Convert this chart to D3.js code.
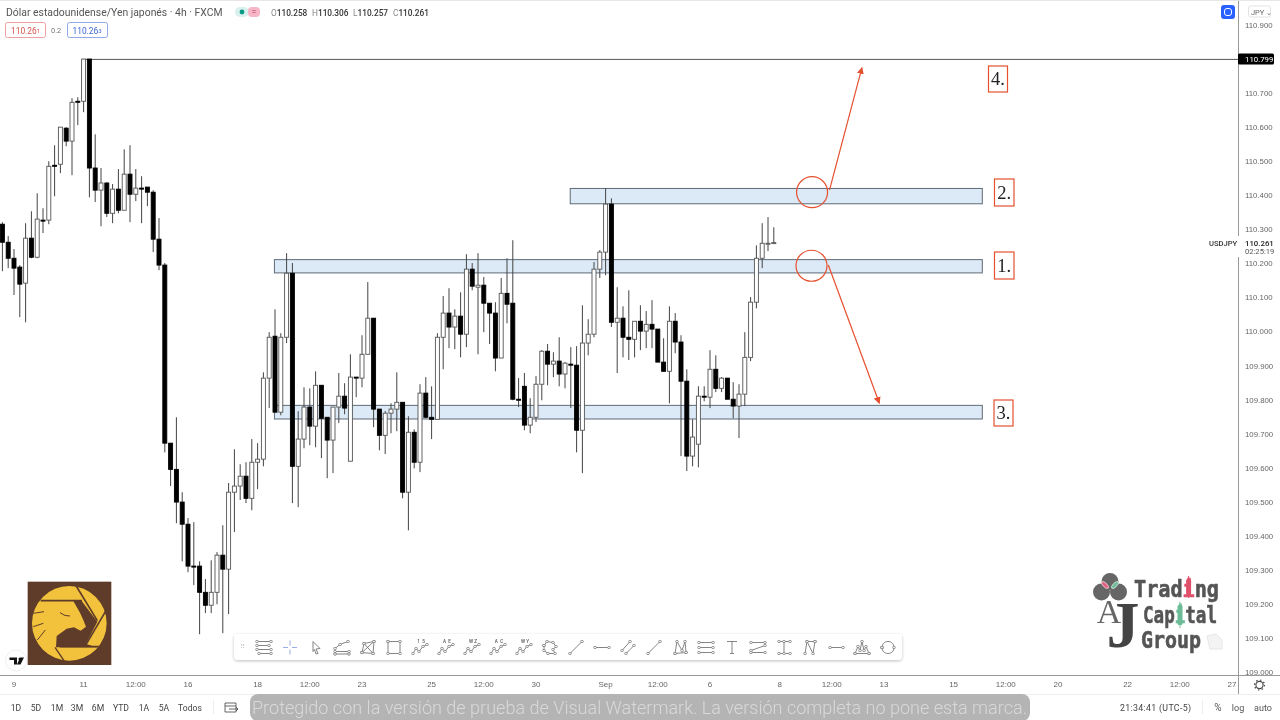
<!DOCTYPE html>
<html>
<head>
<meta charset="utf-8">
<script src="https://cdn.jsdelivr.net/npm/d3@7/dist/d3.min.js"></script>
<style>
  html, body { margin: 0; padding: 0; background: #fff; }
  svg { display: block; font-family: Roboto, sans-serif; filter: blur(0.3px); }
  .price-axis text { fill: #666; font-size: 7.8px; }
  .time-axis text { fill: #666; font-size: 8px; }
  .bottom-btn { fill: #444; font-size: 8.6px; text-anchor: middle; }
</style>
</head>
<body>
<svg id="chart" width="1280" height="720"></svg>
<script>
// values, one candle per 4h bar
const opens = [110.315,110.262,110.215,110.189,110.142,110.274,110.218,110.327,110.327,110.488,110.491,110.597,110.559,110.676,110.676,110.800,110.480,110.415,110.436,110.347,110.418,110.356,110.462,110.403,110.421,110.424,110.409,110.271,110.195,109.672,109.595,109.499,109.434,109.311,109.311,109.234,109.196,109.234,109.343,109.302,109.528,109.546,109.575,109.510,109.616,109.625,109.863,109.986,109.763,109.983,110.171,109.604,109.684,109.778,109.722,109.842,109.748,109.681,109.778,109.810,109.619,109.866,109.863,109.933,110.039,109.772,109.695,109.760,109.772,109.792,109.528,109.704,109.616,109.819,109.748,109.742,109.983,110.054,110.013,110.045,109.992,110.183,110.130,110.136,110.083,110.054,109.922,110.112,110.083,109.801,109.839,109.725,109.748,109.845,109.942,109.904,109.913,109.875,109.904,109.901,109.710,109.966,109.992,110.183,110.233,110.374,110.027,110.039,109.983,109.977,110.030,110.001,110.021,110.007,109.910,109.883,110.030,109.969,109.854,109.634,109.669,109.810,109.807,109.889,109.833,109.863,109.801,109.781,109.816,109.924,110.086,110.215,110.259,110.258];
const highs = [110.321,110.280,110.242,110.195,110.318,110.353,110.406,110.362,110.500,110.547,110.600,110.600,110.685,110.688,110.800,110.800,110.579,110.480,110.438,110.433,110.477,110.535,110.547,110.477,110.456,110.424,110.415,110.333,110.201,109.672,109.748,109.528,109.452,109.440,109.325,109.273,109.328,109.352,109.431,109.555,109.654,109.610,109.616,109.684,109.672,109.880,109.998,110.065,109.995,110.230,110.201,109.766,109.836,109.833,109.883,109.842,109.748,109.778,109.878,109.848,109.933,109.866,109.989,110.145,110.039,109.772,109.766,109.789,109.880,109.792,109.751,109.713,109.845,109.866,109.839,109.995,110.104,110.127,110.065,110.115,110.227,110.201,110.230,110.160,110.083,110.086,110.157,110.215,110.268,109.863,109.878,109.804,109.869,109.945,109.963,109.939,109.983,109.910,109.954,109.957,110.077,110.036,110.204,110.239,110.421,110.391,110.130,110.074,110.121,110.030,110.077,110.060,110.092,110.007,109.980,110.074,110.054,109.989,109.889,109.742,109.839,109.839,109.945,109.930,109.866,109.863,109.851,109.845,109.998,110.101,110.253,110.318,110.336,110.306];
const lows = [110.177,110.186,110.107,110.042,110.027,110.215,110.215,110.289,110.315,110.397,110.465,110.544,110.459,110.606,110.644,110.394,110.380,110.309,110.336,110.318,110.347,110.356,110.321,110.383,110.318,110.368,110.233,110.180,109.645,109.546,109.437,109.325,109.293,109.255,109.111,109.173,109.173,109.199,109.114,109.170,109.411,109.505,109.496,109.475,109.537,109.604,109.775,109.763,109.754,109.966,109.496,109.484,109.657,109.666,109.660,109.628,109.569,109.584,109.731,109.757,109.619,109.807,109.836,109.933,109.719,109.651,109.640,109.701,109.707,109.510,109.416,109.598,109.587,109.745,109.684,109.742,109.889,109.951,109.948,109.924,109.954,110.121,109.933,109.998,109.963,109.883,109.922,110.024,109.798,109.778,109.710,109.701,109.734,109.798,109.842,109.866,109.839,109.833,109.775,109.645,109.584,109.930,109.983,110.157,110.165,110.013,109.878,109.924,109.916,109.924,109.945,109.951,109.951,109.910,109.883,109.789,109.936,109.634,109.590,109.604,109.601,109.795,109.775,109.822,109.822,109.801,109.745,109.687,109.781,109.913,110.068,110.186,110.236,110.257];
const closes = [110.262,110.215,110.186,110.139,110.274,110.218,110.330,110.325,110.485,110.487,110.600,110.559,110.673,110.675,110.800,110.480,110.415,110.436,110.347,110.418,110.356,110.462,110.403,110.421,110.419,110.409,110.271,110.195,109.672,109.595,109.499,109.434,109.311,109.309,109.234,109.196,109.234,109.343,109.302,109.528,109.546,109.575,109.510,109.616,109.625,109.863,109.983,109.763,109.983,110.171,109.604,109.684,109.778,109.722,109.842,109.745,109.681,109.778,109.810,109.775,109.866,109.863,109.933,110.039,109.772,109.695,109.760,109.772,109.792,109.528,109.704,109.616,109.819,109.748,109.742,109.983,110.054,110.013,110.045,109.992,110.183,110.133,110.136,110.083,110.054,109.922,110.112,110.080,109.801,109.798,109.725,109.748,109.845,109.942,109.904,109.913,109.875,109.907,109.901,109.710,109.966,109.992,110.183,110.233,110.374,110.027,110.039,109.983,109.977,110.030,110.001,110.021,110.007,109.910,109.883,110.030,109.969,109.854,109.634,109.690,109.810,109.807,109.889,109.833,109.863,109.801,109.781,109.816,109.924,110.086,110.215,110.259,110.259,110.261];

const priceTicks = [110.9,110.7,110.6,110.5,110.4,110.3,110.2,110.1,110.0,109.9,109.8,109.7,109.6,109.5,109.4,109.3,109.2,109.1,109.0];
const timeTickBars = [2,14,23,32,44,53,62,74,83,92,104,113,122,134,143,152,164,173,182,194,203,212];
const timeTickLabels = ['9','11','12:00','16','18','12:00','23','25','12:00','30','Sep','12:00','6','8','12:00','13','15','12:00','20','22','12:00','27'];

const zoneNames = ['1.','2.','3.'];
const zoneTops = [110.211,110.420,109.783];
const zoneBottoms = [110.172,110.375,109.743];
const zoneStarts = [46.9,97.9,46.9];
const zoneEnd = 168.95;

const resistance = 110.799;
const resistanceStart = 14;

const arrowBars = [[142.6,148.2],[142.4,151.2]];
const arrowPrices = [[110.415,110.775],[110.195,109.789]];
const circleBars = [139.6,139.5];
const circlePrices = [110.409,110.193];

const periods = ['1D','5D','1M','3M','6M','YTD','1A','5A','Todos'];

const svg = d3.select('#chart');
const red = '#e5502f';

const x = d3.scaleLinear().domain([0, 133]).range([2.4, 773.8]);
const y = d3.scaleLinear().domain([109.0, 110.9]).range([672, 25]);

// zones go under the candles
svg.append('g').selectAll('rect')
  .data(zoneNames)
  .enter().append('rect')
    .attr('x', (d, i) => x(zoneStarts[i]))
    .attr('y', (d, i) => y(zoneTops[i]))
    .attr('width', (d, i) => x(zoneEnd) - x(zoneStarts[i]))
    .attr('height', (d, i) => y(zoneBottoms[i]) - y(zoneTops[i]))
    .attr('fill', '#dce9f6')
    .attr('stroke', '#5f6b78')
    .attr('stroke-width', 1);

svg.append('line')
  .attr('x1', x(resistanceStart)).attr('x2', 1238)
  .attr('y1', y(resistance)).attr('y2', y(resistance))
  .attr('stroke', '#555').attr('stroke-width', 1);

const candles = svg.append('g').selectAll('g')
  .data(opens)
  .enter().append('g');

candles.append('line')
  .attr('x1', (d, i) => x(i)).attr('x2', (d, i) => x(i))
  .attr('y1', (d, i) => y(highs[i])).attr('y2', (d, i) => y(lows[i]))
  .attr('stroke', '#444').attr('stroke-width', 1);

candles.append('rect')
  .attr('x', (d, i) => x(i) - 2)
  .attr('width', 4)
  .attr('y', (d, i) => y(Math.max(d, closes[i])))
  .attr('height', (d, i) => Math.max(1, Math.abs(y(d) - y(closes[i]))))
  .attr('fill', (d, i) => closes[i] >= d ? '#fff' : '#000')
  .attr('stroke', (d, i) => closes[i] >= d ? '#555' : '#000')
  .attr('stroke-width', 0.9);

// price scale
svg.append('g')
  .attr('class', 'price-axis')
  .attr('transform', 'translate(1238,0)')
  .call(d3.axisRight(y).tickValues(priceTicks).tickSize(0).tickPadding(7).tickFormat(d3.format('.3f')))
  .call((g) => g.select('.domain').remove());

svg.append('line').attr('x1', 1238.5).attr('x2', 1238.5).attr('y1', 0).attr('y2', 236).attr('stroke', '#999');
svg.append('line').attr('x1', 1238.5).attr('x2', 1238.5).attr('y1', 257).attr('y2', 694).attr('stroke', '#999');

svg.append('rect').attr('x', 1238).attr('y', 53.5).attr('width', 36).attr('height', 11).attr('rx', 1.5).attr('fill', '#000');
svg.append('text').attr('x', 1245).attr('y', 62).attr('fill', '#fff').attr('font-size', 7.8).text(resistance.toFixed(3));

svg.append('text').attr('x', 1209).attr('y', 245.5).attr('fill', '#333').attr('font-size', 7.6).attr('font-weight', 500).text('USDJPY');
svg.append('text').attr('x', 1245).attr('y', 245.5).attr('fill', '#222').attr('font-size', 7.8).attr('font-weight', 500).text(closes[closes.length - 1].toFixed(3));
svg.append('text').attr('x', 1245).attr('y', 254).attr('fill', '#555').attr('font-size', 7.6).text('02:25:19');

// time scale
svg.append('g')
  .attr('class', 'time-axis')
  .attr('transform', 'translate(-0.5,675.5)')
  .call(d3.axisBottom(x).tickValues(timeTickBars).tickSize(0).tickPadding(6)
    .tickFormat((d, i) => timeTickLabels[i]))
  .call((g) => g.select('.domain').remove());

svg.append('line').attr('x1', 0).attr('x2', 1280).attr('y1', 675.5).attr('y2', 675.5).attr('stroke', '#999');
svg.append('line').attr('x1', 0).attr('x2', 1280).attr('y1', 694.5).attr('y2', 694.5).attr('stroke', '#eee');
svg.append('line').attr('x1', 0).attr('x2', 1280).attr('y1', 0.5).attr('y2', 0.5).attr('stroke', '#e6e6e6');

// red annotations
const defs = svg.append('defs');
defs.append('marker')
  .attr('id', 'head').attr('viewBox', '0 0 10 10').attr('refX', 9).attr('refY', 5)
  .attr('markerWidth', 7).attr('markerHeight', 7).attr('markerUnits', 'userSpaceOnUse').attr('orient', 'auto')
  .append('path').attr('d', 'M0,0L10,5L0,10Z').attr('fill', red);
defs.append('marker')
  .attr('id', 'dot').attr('viewBox', '0 0 6 6').attr('refX', 3).attr('refY', 3)
  .attr('markerWidth', 3.6).attr('markerHeight', 3.6).attr('markerUnits', 'userSpaceOnUse')
  .append('circle').attr('cx', 3).attr('cy', 3).attr('r', 2.2).attr('fill', '#fff').attr('stroke', '#777').attr('stroke-width', 1.3);

svg.append('g').selectAll('line')
  .data(arrowBars)
  .enter().append('line')
    .attr('x1', (d) => x(d[0])).attr('x2', (d) => x(d[1]))
    .attr('y1', (d, i) => y(arrowPrices[i][0])).attr('y2', (d, i) => y(arrowPrices[i][1]))
    .attr('stroke', red).attr('stroke-width', 1.2)
    .attr('marker-end', 'url(#head)');

svg.append('g').selectAll('circle')
  .data(circleBars)
  .enter().append('circle')
    .attr('cx', (d) => x(d))
    .attr('cy', (d, i) => y(circlePrices[i]))
    .attr('r', 15.5)
    .attr('fill', 'none').attr('stroke', red).attr('stroke-width', 1.2);

const labelBoxes = [
  ['4.', 988.5, 66, 19, 26],
  ['2.', 994.5, 179, 19.5, 27],
  ['1.', 994.5, 252, 19.5, 27],
  ['3.', 994, 400, 19, 26],
];
labelBoxes.forEach((b) => {
  svg.append('rect').attr('x', b[1]).attr('y', b[2]).attr('width', b[3]).attr('height', b[4])
    .attr('fill', '#fff').attr('stroke', red).attr('stroke-width', 1.2);
  svg.append('text').attr('x', b[1] + b[3] / 2).attr('y', b[2] + b[4] / 2 + 6)
    .attr('text-anchor', 'middle').attr('font-family', 'Liberation Serif').attr('font-size', 18.5).attr('fill', '#222')
    .text(b[0]);
});

// header
svg.append('text').attr('x', 6).attr('y', 16).attr('fill', '#555').attr('font-size', 10.4).text('Dólar estadounidense/Yen japonés · 4h · FXCM');
svg.append('rect').attr('x', 235).attr('y', 7).attr('width', 14).attr('height', 10).attr('rx', 5).attr('fill', '#d9f1ee');
svg.append('circle').attr('cx', 242).attr('cy', 12).attr('r', 2.4).attr('fill', '#0a9a85');
svg.append('rect').attr('x', 248).attr('y', 7).attr('width', 12).attr('height', 10).attr('rx', 4).attr('fill', '#f7b6c8');
svg.append('text').attr('x', 254).attr('y', 15).attr('text-anchor', 'middle').attr('fill', '#b03060').attr('font-size', 9).text('=');

const ohlcLabels = ['O', 'H', 'L', 'C'];
const ohlcValues = [opens, highs, lows, closes].map((s) => s[s.length - 1].toFixed(3));
const ohlcX = [271, 312, 353, 393];
ohlcLabels.forEach((l, i) => {
  const t = svg.append('text').attr('x', ohlcX[i]).attr('y', 15.5).attr('font-size', 8.3);
  t.append('tspan').attr('fill', '#888').text(l);
  t.append('tspan').attr('fill', '#333').attr('font-weight', 500).text(ohlcValues[i]);
});

svg.append('rect').attr('x', 5.5).attr('y', 22.5).attr('width', 40).attr('height', 15).attr('rx', 2).attr('fill', '#fff').attr('stroke', '#eda0a0');
svg.append('text').attr('x', 11).attr('y', 33.5).attr('fill', '#d9534f').attr('font-size', 8.4).text('110.26').append('tspan').attr('font-size', 6).attr('dy', -1).text('1');
svg.append('text').attr('x', 51).attr('y', 33).attr('fill', '#777').attr('font-size', 7.4).text('0.2');
svg.append('rect').attr('x', 67.5).attr('y', 22.5).attr('width', 40).attr('height', 15).attr('rx', 2).attr('fill', '#fff').attr('stroke', '#8fa8e8');
svg.append('text').attr('x', 72.5).attr('y', 33.5).attr('fill', '#3d67d6').attr('font-size', 8.4).text('110.26').append('tspan').attr('font-size', 6).attr('dy', -1).text('3');

// top right controls
svg.append('rect').attr('x', 1221).attr('y', 5).attr('width', 14).attr('height', 14).attr('rx', 3).attr('fill', '#2962ff');
svg.append('rect').attr('x', 1224.5).attr('y', 8.5).attr('width', 7).attr('height', 7).attr('rx', 2.5).attr('fill', 'none').attr('stroke', '#fff').attr('stroke-width', 1);
svg.append('rect').attr('x', 1248.5).attr('y', 6).attr('width', 22).attr('height', 11).attr('rx', 2).attr('fill', '#fff').attr('stroke', '#e3e3e3');
svg.append('text').attr('x', 1251).attr('y', 14.5).attr('fill', '#666').attr('font-size', 7.4).text('JPY ⌄');

// bottom bar
const periodX = [16, 36, 57, 77, 98, 121, 144, 164, 190];
svg.append('g').selectAll('text')
  .data(periods)
  .enter().append('text')
    .attr('class', 'bottom-btn')
    .attr('x', (d, i) => periodX[i])
    .attr('y', 710.5)
    .text((d) => d);
svg.append('line').attr('x1', 213.5).attr('x2', 213.5).attr('y1', 700).attr('y2', 714).attr('stroke', '#eee');
svg.append('path').attr('d', 'M225,703H236V712H225ZM225,706H236M229,709H238M236,707L238,709L236,711')
  .attr('fill', 'none').attr('stroke', '#555').attr('stroke-width', 0.9);

svg.append('text').attr('x', 1120).attr('y', 710.5).attr('fill', '#444').attr('font-size', 8.8).attr('textLength', 71).text('21:34:41 (UTC-5)');
svg.append('line').attr('x1', 1202.5).attr('x2', 1202.5).attr('y1', 700).attr('y2', 714).attr('stroke', '#eee');
svg.append('text').attr('x', 1218).attr('y', 711).attr('text-anchor', 'middle').attr('fill', '#555').attr('font-size', 10).text('%');
svg.append('text').attr('x', 1238).attr('y', 711).attr('text-anchor', 'middle').attr('fill', '#555').attr('font-size', 9).text('log');
svg.append('text').attr('x', 1263).attr('y', 711).attr('text-anchor', 'middle').attr('fill', '#555').attr('font-size', 9).text('auto');

// gear
svg.append('circle').attr('cx', 1259.5).attr('cy', 685).attr('r', 3.6).attr('fill', 'none').attr('stroke', '#444').attr('stroke-width', 1.1);
svg.append('circle').attr('cx', 1259.5).attr('cy', 685).attr('r', 5).attr('fill', 'none').attr('stroke', '#444').attr('stroke-width', 1.2).attr('stroke-dasharray', '1.5 2.4');

// watermark strip
svg.append('rect').attr('x', 250).attr('y', 694).attr('width', 780).attr('height', 27).attr('rx', 8).attr('fill', '#b4b4b4');
svg.append('text').attr('x', 252).attr('y', 713.5).attr('fill', '#d9d9d9').attr('font-size', 17.5).attr('font-weight', 300)
  .attr('textLength', 775).attr('lengthAdjust', 'spacingAndGlyphs')
  .text('Protegido con la versión de prueba de Visual Watermark. La versión completa no pone esta marca.');

// drawing toolbar
defs.append('filter').attr('id', 'shadow').attr('x', '-5%').attr('y', '-30%').attr('width', '110%').attr('height', '170%')
  .append('feDropShadow').attr('dx', 0).attr('dy', 1).attr('stdDeviation', 1.6).attr('flood-color', '#000').attr('flood-opacity', 0.25);
svg.append('rect').attr('x', 234).attr('y', 634).attr('width', 668).attr('height', 26).attr('rx', 4).attr('fill', '#fff').attr('filter', 'url(#shadow)');
svg.append('text').attr('x', 240).attr('y', 649).attr('fill', '#ccc').attr('font-size', 7).text('⠿');

const wave = 'M-7,6L-4,1L-1,4L3,-1L7,-3';
const toolIcons = [
  'M-7,-6H7M-7,-2H5M-7,2H7M-5,6H7',
  'M-7,0H-2M2,0H7M0,-7V-2M0,2V7',
  'M-3,-6L4,1L0,1.5L2,6L0,6.5L-1.5,2L-3,4Z',
  'M-7,1L-2,-3L6,-6M-7,4H7M-7,6.5H7',
  'M-6,5L-4,-4L6,-6L5,6ZM-4,-4L5,6M-6,5L6,-6',
  'M-6,-6H6V6H-6Z',
  wave, wave, wave, wave, wave,
  'M-6,-2L-3,-6L3,-5L6,-1L3,2L5,6L-2,6L-6,3Z',
  'M-6,6L6,-6',
  'M-7,0H7',
  'M-6,3L2,-6M-2,6L6,-2',
  'M-6,6L6,-6',
  'M-5,6L-3,-6L2,3L5,-6L6,5M-5,6L6,5',
  'M-7,-5H7M-7,0H7M-7,5H7',
  'M-5,-6H5M0,-6V6M-2,6H2',
  'M-7,-5H7M-7,5H7M-7,3L7,-2',
  'M-5,-6H6M0,-6V6M-5,6H6',
  'M-5,6L-3,-6L3,6L5,-6M-3,-6L5,-6',
  'M-6,0H7',
  'M-7,6L-4,-1L-2,3L0,-6L2,3L4,-1L7,6M-7,6H7',
  'M-6,0C-6,-8,6,-8,6,0C6,8,-6,8,-6,0Z',
];
const plainTools = [1, 2, 18];
const waveLetters = ['1  5', 'A  E', 'W Z', 'A  C', 'W Y'];
const tools = svg.append('g').selectAll('g')
  .data(toolIcons)
  .enter().append('g')
    .attr('transform', (d, i) => `translate(${264 + i * 26},647.5)`);
tools.append('path')
  .attr('d', (d) => d)
  .attr('fill', 'none')
  .attr('stroke', (d, i) => i === 1 ? '#8fa6e6' : '#777')
  .attr('stroke-width', 0.9)
  .each(function (d, i) {
    if (plainTools.includes(i)) return;
    d3.select(this)
      .attr('marker-start', 'url(#dot)')
      .attr('marker-mid', 'url(#dot)')
      .attr('marker-end', 'url(#dot)');
  });
tools.filter((d, i) => i >= 6 && i <= 10).append('text')
  .attr('y', -5).attr('x', 1).attr('font-size', 4.6).attr('font-weight', 500).attr('text-anchor', 'middle').attr('fill', '#555')
  .attr('xml:space', 'preserve')
  .text((d, i) => waveLetters[i]);

// eagle logo, drawn in 3x zoom units
const eagle = svg.append('g').attr('transform', 'translate(0,570) scale(0.3333)');
eagle.append('rect').attr('x', 83).attr('y', 35).attr('width', 251).attr('height', 250).attr('fill', '#5f3b2a');
eagle.append('circle').attr('cx', 208).attr('cy', 160).attr('r', 112).attr('fill', '#f2c23c');
eagle.append('path')
  .attr('d', 'M245,93L292,155L258,222L242,182L258,170L250,150L240,128L220,93Z M168,232L170,198L200,176L222,172L242,182L258,222L290,232L185,232Z')
  .attr('fill', '#5f3b2a');
[['M122,92H246', 5], ['M225,42L292,152', 5], ['M318,122L258,224', 5], ['M180,230H296', 5],
 ['M180,128Q195,140,210,138', 3], ['M165,232L192,272', 4], ['M100,130L132,125', 3], ['M100,170L130,160', 3], ['M112,210L136,180', 3]]
  .forEach((s) => {
    eagle.append('path').attr('d', s[0]).attr('fill', 'none').attr('stroke', '#5f3b2a').attr('stroke-width', s[1]);
  });

// tradingview badge
svg.append('circle').attr('cx', 16).attr('cy', 660.5).attr('r', 10.5).attr('fill', '#fff').attr('stroke', '#eee');
svg.append('path').attr('d', 'M9.5,657.5H17V664.5H14V660H9.5ZM18.5,659A1.5,1.5,0,1,1,18.5,659.1ZM20,657.5H24L20.5,664.5H17Z').attr('fill', '#111');

// trading capital group logo
const groupLogo = svg.append('g').attr('transform', 'translate(1080,560)');
[[30, 21.5], [21.5, 32], [38.5, 32]].forEach((c) => {
  groupLogo.append('circle').attr('cx', c[0]).attr('cy', c[1]).attr('r', 8.5).attr('fill', '#666');
});
groupLogo.append('ellipse').attr('cx', 25).attr('cy', 25).attr('rx', 4.5).attr('ry', 2).attr('transform', 'rotate(45 25 25)').attr('fill', '#e0627f').attr('stroke', '#fff').attr('stroke-width', 0.6);
groupLogo.append('ellipse').attr('cx', 35).attr('cy', 25).attr('rx', 4.5).attr('ry', 2).attr('transform', 'rotate(-45 35 25)').attr('fill', '#6dbb97').attr('stroke', '#fff').attr('stroke-width', 0.6);
groupLogo.append('text').attr('x', 29).attr('y', 63).attr('text-anchor', 'middle').attr('font-family', 'Liberation Serif').attr('font-size', 34).attr('fill', '#666').text('A');
groupLogo.append('text').attr('x', 43).attr('y', 87).attr('text-anchor', 'middle').attr('font-family', 'Liberation Serif').attr('font-weight', 700).attr('font-size', 66).attr('fill', '#444').text('J');

const logoWords = [['Trad', 'i', 'ng', 54, 36.5, 85, '#e0506a', 108.6, 16, 22], ['Cap', 'i', 'tal', 63, 63, 74, '#6dbb97', 100, 42, 26], ['Group', '', '', 61, 88, 60, '']];
logoWords.forEach((w) => {
  const t = groupLogo.append('text').attr('x', w[3]).attr('y', w[4])
    .attr('font-family', 'DejaVu Sans Mono').attr('font-weight', 700).attr('font-size', 23).attr('fill', '#555')
    .attr('stroke', '#555').attr('stroke-width', 0.6)
    .attr('textLength', w[5]).attr('lengthAdjust', 'spacingAndGlyphs');
  t.append('tspan').text(w[0]);
  if (w[1]) t.append('tspan').attr('fill', w[6]).attr('stroke', w[6]).text(w[1]);
  t.append('tspan').text(w[2]);
  if (w[1]) {
    groupLogo.append('rect').attr('x', w[7] - 2.5).attr('y', w[8] + 3).attr('width', 5).attr('height', w[9] - 6).attr('rx', 1.5).attr('fill', w[6]);
    groupLogo.append('line').attr('x1', w[7]).attr('x2', w[7]).attr('y1', w[8]).attr('y2', w[8] + w[9]).attr('stroke', w[6]);
  }
});
groupLogo.append('path').attr('d', 'M127,76L136,74L142,80V89H130Z').attr('fill', '#f4f4f4').attr('stroke', '#e6e6e6');
</script>
</body>
</html>
